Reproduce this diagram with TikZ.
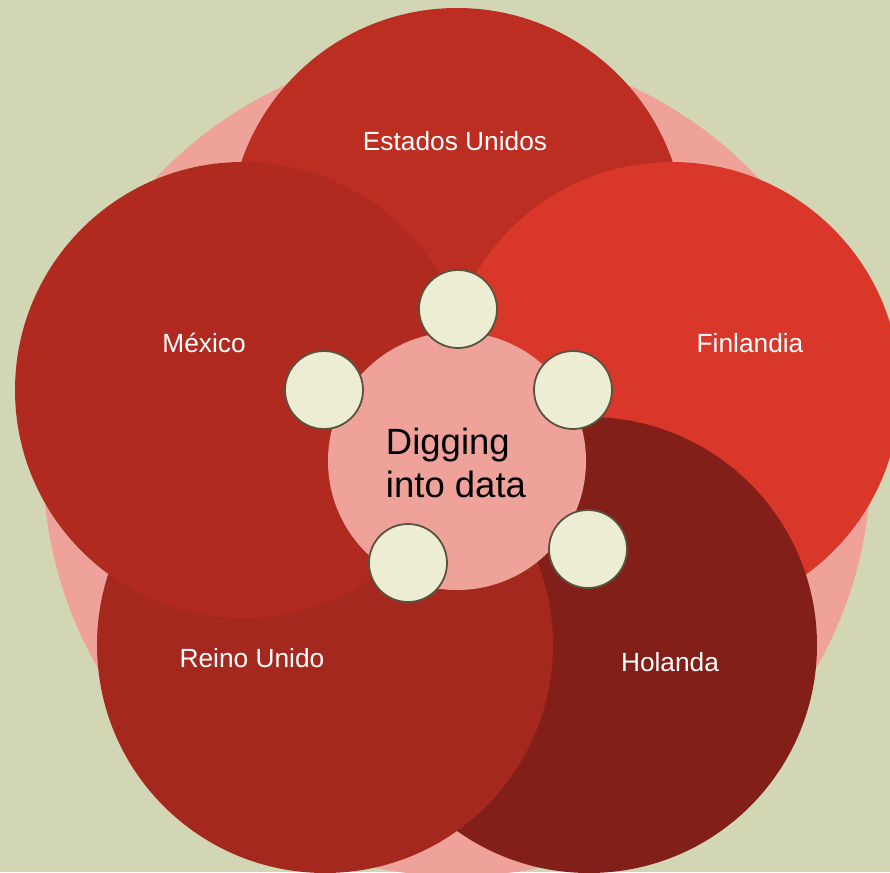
\documentclass[tikz,border=0pt]{standalone}
\usepackage{fontspec}
\newfontfamily\arialf{Liberation Sans}
\definecolor{bgc}{HTML}{D3D6B5}
\definecolor{pinkc}{HTML}{EEA29A}
\definecolor{usc}{HTML}{BC2D22}
\definecolor{mxc}{HTML}{B02A20}
\definecolor{fic}{HTML}{D8372A}
\definecolor{hoc}{HTML}{821F18}
\definecolor{ruc}{HTML}{A5281F}
\definecolor{creamc}{HTML}{EDEDD3}
\definecolor{rimc}{HTML}{595440}
\tikzset{
  bigcirc/.style={circle, inner sep=0pt, minimum size=456pt, draw=none},
  dotcirc/.style={circle, inner sep=0pt, minimum size=78pt, fill=creamc, draw=rimc, line width=1.8pt},
  countrylbl/.style={font=\arialf\fontsize{26.3}{31}\selectfont, text=white, inner sep=0pt},
}
\begin{document}
\begin{tikzpicture}[x=1pt,y=-1pt]
\useasboundingbox (0,0) rectangle (890,872);
\fill[bgc] (0,0) rectangle (890,872);
\clip (0,0) rectangle (890,872);
\node[circle, inner sep=0pt, minimum size=828pt, fill=pinkc] (halo) at (457,462) {};
\node[bigcirc, fill=usc] (us) at (457,236) {};
\node[bigcirc, fill=fic] (fi) at (672,390) {};
\node[bigcirc, fill=hoc] (ho) at (589,645) {};
\node[bigcirc, fill=ruc] (ru) at (325,645) {};
\node[bigcirc, fill=mxc] (mx) at (243,390) {};
\node[circle, inner sep=0pt, minimum size=258pt, fill=pinkc] (hub) at (457,461) {};
\node[dotcirc] (d1) at (458,309) {};
\node[dotcirc] (d2) at (324,390) {};
\node[dotcirc] (d3) at (573,390) {};
\node[dotcirc] (d4) at (408,563) {};
\node[dotcirc] (d5) at (588,549) {};
\node[countrylbl] (lus) at (455,141) {Estados Unidos};
\node[countrylbl] (lmx) at (204,343) {México};
\node[countrylbl] (lfi) at (750,343) {Finlandia};
\node[countrylbl] (lru) at (252,658) {Reino Unido};
\node[countrylbl] (lho) at (670,662) {Holanda};
\node[font=\arialf\fontsize{36.5}{43}\selectfont, text=black, align=left, inner sep=0pt] (hubtxt) at (456,463) {Digging\\into data};
\end{tikzpicture}
\end{document}
